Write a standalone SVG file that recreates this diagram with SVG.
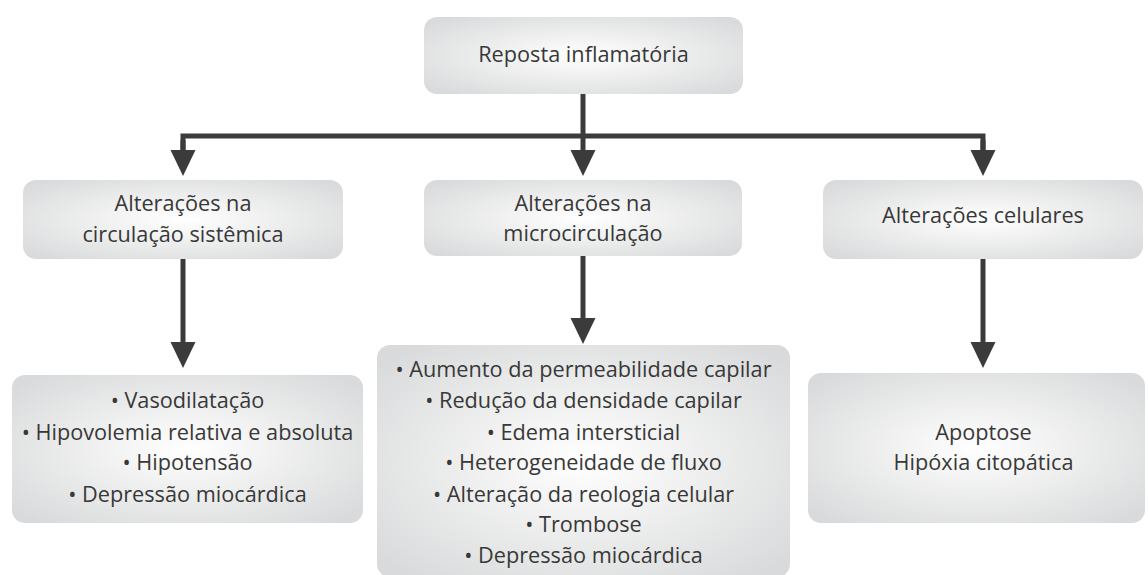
<svg xmlns="http://www.w3.org/2000/svg" width="1148" height="575" viewBox="0 0 1148 575">
<defs>
<radialGradient id="g" cx="0.5" cy="0.5" r="0.65">
<stop offset="0" stop-color="#ffffff"/>
<stop offset="1" stop-color="#d9dadb"/>
</radialGradient>
<marker id="ah" markerUnits="userSpaceOnUse" markerWidth="28" markerHeight="26" refX="2" refY="12.5" orient="auto">
<path d="M0,0 L26,12.5 L0,25 z" fill="#3b3b3b"/>
</marker>
<style>
.box{fill:url(#g);}
.t{font-family:"Open Sans","Liberation Sans",sans-serif;font-size:21.7px;fill:#383838;text-anchor:middle;}
.c{stroke:#3b3b3b;stroke-width:5;fill:none;}
</style>
</defs>
<rect width="1148" height="575" fill="#ffffff"/>
<g id="connectors">
<path class="c" d="M583,94 V152" marker-end="url(#ah)"/>
<path class="c" d="M183,152 V136 H983 V152" stroke-linejoin="miter"/>
<path class="c" d="M183,140 V152" marker-end="url(#ah)"/>
<path class="c" d="M983,140 V152" marker-end="url(#ah)"/>
<path class="c" d="M183,259 V344" marker-end="url(#ah)"/>
<path class="c" d="M583,256 V320" marker-end="url(#ah)"/>
<path class="c" d="M983,259 V344" marker-end="url(#ah)"/>
</g>
<g id="n-top">
<rect class="box" x="424" y="17" width="319" height="77" rx="13"/>
<text class="t" x="583.5" y="62">Reposta inflamatória</text>
</g>
<g id="n-sist">
<rect class="box" x="23" y="180" width="320" height="79" rx="13"/>
<text class="t" x="183" y="211">Alterações na</text>
<text class="t" x="183" y="242">circulação sistêmica</text>
</g>
<g id="n-micro">
<rect class="box" x="424" y="180" width="318" height="76" rx="13"/>
<text class="t" x="583" y="211">Alterações na</text>
<text class="t" x="583" y="241">microcirculação</text>
</g>
<g id="n-cel">
<rect class="box" x="823" y="180" width="320" height="79" rx="13"/>
<text class="t" x="983" y="223">Alterações celulares</text>
</g>
<g id="n-sist-list">
<rect class="box" x="12" y="375" width="351" height="148" rx="13"/>
<text class="t" x="187.5" y="408">• Vasodilatação</text>
<text class="t" x="187.5" y="440">• Hipovolemia relativa e absoluta</text>
<text class="t" x="187.5" y="470">• Hipotensão</text>
<text class="t" x="187.5" y="502">• Depressão miocárdica</text>
</g>
<g id="n-micro-list">
<rect class="box" x="377" y="345" width="413" height="232" rx="13"/>
<text class="t" x="583.5" y="377">• Aumento da permeabilidade capilar</text>
<text class="t" x="583.5" y="408">• Redução da densidade capilar</text>
<text class="t" x="583.5" y="440">• Edema intersticial</text>
<text class="t" x="583.5" y="470">• Heterogeneidade de fluxo</text>
<text class="t" x="583.5" y="502">• Alteração da reologia celular</text>
<text class="t" x="583.5" y="532">• Trombose</text>
<text class="t" x="583.5" y="563">• Depressão miocárdica</text>
</g>
<g id="n-cel-list">
<rect class="box" x="808" y="373" width="337" height="150" rx="13"/>
<text class="t" x="983.5" y="440">Apoptose</text>
<text class="t" x="983.5" y="470">Hipóxia citopática</text>
</g>
</svg>
